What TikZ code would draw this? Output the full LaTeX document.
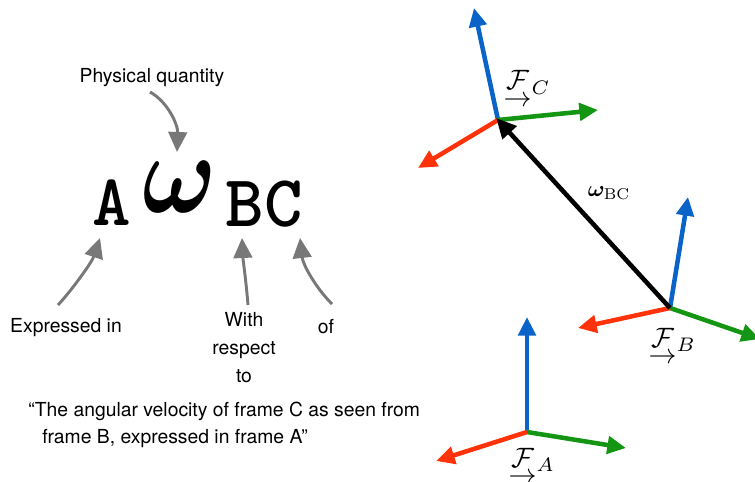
\documentclass[tikz,border=0pt]{standalone}
\usepackage{amsmath,bm}
\usepackage{fontspec}
\setsansfont{TeX Gyre Heros}
\usetikzlibrary{arrows.meta}
\definecolor{fblue}{RGB}{10,100,200}
\definecolor{fgreen}{RGB}{20,150,20}
\definecolor{fred}{RGB}{255,50,10}
\definecolor{pgray}{RGB}{120,120,120}
\newcommand{\frm}[1]{\smash[b]{\underset{\textstyle\rightarrow}{\mathcal{F}}}_{#1}}
\tikzset{
  lbl/.style={font=\sffamily\fontsize{14.5}{21}\selectfont, inner sep=0pt},
  pointer/.style={draw=pgray, line width=2.2pt, -{Triangle[length=15pt,width=14pt]}},
  axis/.style={line width=3.4pt, -{Triangle[length=14pt,width=13pt]}},
  flbl/.style={inner sep=0pt, scale=2.1},
}
\begin{document}
\begin{tikzpicture}[x=0.75pt,y=-0.75pt]
\useasboundingbox (0,0) rectangle (755,481);
% big notation
\node[anchor=base, inner sep=0pt, font=\fontsize{55}{60}\selectfont\ttfamily\bfseries] (A) at (112,225) {A};
\node[anchor=base, inner sep=0pt, font=\fontsize{55}{60}\selectfont\ttfamily\bfseries] (BC) at (264,226) {BC};
\node[inner sep=0pt, xscale=7.4, yscale=8.6] (W) at (180,187) {$\bm{\omega}$};
% labels
\node[lbl] (PQ) at (152,78) {Physical quantity};
\node[lbl] (EI) at (66,328) {Expressed in};
\node[lbl, align=center] (WR) at (244,348) {With\\respect\\to};
\node[lbl] (OF) at (326,327) {of};
\node[lbl, align=left, anchor=north west, font=\sffamily\fontsize{14.5}{20}\selectfont] (Q) at (28,402) {“The angular velocity of frame C as seen from\\\hspace*{10.5pt}frame B, expressed in frame A”};
% pointers
\coordinate (pq0) at (150,92);
\coordinate (pq1) at (177,152);
\coordinate (ei0) at (58,305);
\coordinate (ei1) at (100,238);
\coordinate (wr0) at (248,305);
\coordinate (wr1) at (242,238);
\coordinate (of0) at (332,304);
\coordinate (of1) at (300,238);
\draw[pointer] (pq0) .. controls (168,102) and (178,125) .. (pq1);
\draw[pointer] (ei0) .. controls (72,290) and (92,262) .. (ei1);
\draw[pointer] (wr0) .. controls (246,280) and (243,260) .. (wr1);
\draw[pointer] (of0) .. controls (316,288) and (303,265) .. (of1);
% frames
\coordinate (C) at (498,120);
\coordinate (Cb) at (474,8);
\coordinate (Cg) at (598,110);
\coordinate (Cr) at (418,168);
\coordinate (B) at (670,308);
\coordinate (Bb) at (688,197);
\coordinate (Bg) at (760,339);
\coordinate (Br) at (578,328);
\coordinate (O) at (527,432);
\coordinate (Ob) at (527,317);
\coordinate (Og) at (626,448);
\coordinate (Or) at (436,461);
\draw[axis, fblue] (C) -- (Cb);
\draw[axis, fgreen] (C) -- (Cg);
\draw[axis, fred] (C) -- (Cr);
\draw[axis, fblue] (B) -- (Bb);
\draw[axis, fgreen] (B) -- (Bg);
\draw[axis, fred] (B) -- (Br);
\draw[axis, fblue] (O) -- (Ob);
\draw[axis, fgreen] (O) -- (Og);
\draw[axis, fred] (O) -- (Or);
\draw[line width=3.4pt, black, -{Triangle[length=15pt,width=14pt]}, shorten >=-2pt] (B) -- (C);
\node[flbl, anchor=base west] (FC) at (503,90) {$\frm{C}$};
\node[flbl, anchor=base west] (FB) at (648,347) {$\frm{B}$};
\node[flbl, anchor=base west] (FA) at (508,467) {$\frm{A}$};
\node[flbl, scale=0.8] (WBC) at (609,193) {$\bm{\omega}_{\mathrm{BC}}$};
\end{tikzpicture}
\end{document}
